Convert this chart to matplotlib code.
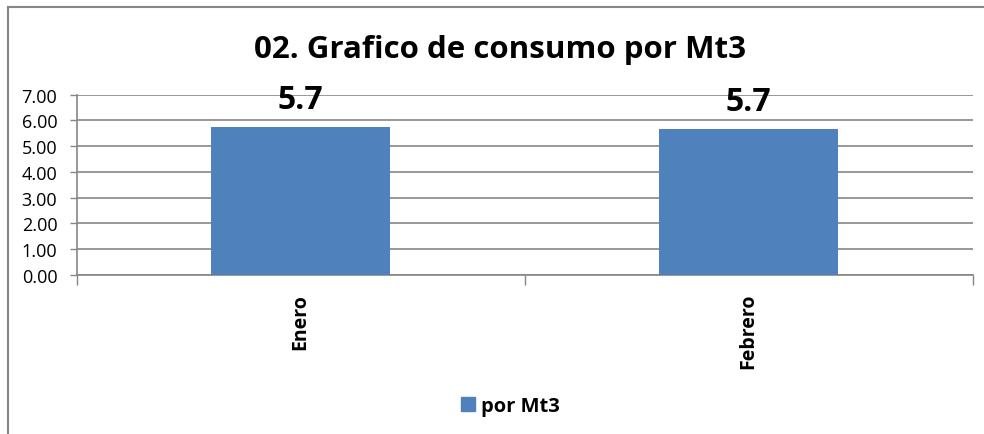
import matplotlib
matplotlib.use("Agg")
import matplotlib.pyplot as plt
from matplotlib.patches import Rectangle
from matplotlib.lines import Line2D
import numpy as np

categories = ["Enero", "Febrero"]
values = [5.73, 5.67]
labels = ["5.7", "5.7"]
series_name = "por Mt3"
title = "02. Grafico de consumo por Mt3"
yticks = [0, 1, 2, 3, 4, 5, 6, 7]

plt.rcParams['font.family'] = ['Open Sans', 'DejaVu Sans']

W, H = 984, 435
fig = plt.figure(figsize=(W / 100, H / 100), dpi=100)
fig.patch.set_facecolor('white')

grey = '#868686'
bar_color = '#4F81BD'

# chart border (left and top visible)
fig.add_artist(Line2D([7.5 / W, 7.5 / W], [0, 1 - 8 / H], transform=fig.transFigure,
                      color=grey, linewidth=1.5))
fig.add_artist(Line2D([7.5 / W, 1], [1 - 8 / H, 1 - 8 / H], transform=fig.transFigure,
                      color=grey, linewidth=1.5))

ax = fig.add_axes([76.7 / W, (H - 275.7) / H, 896 / W, 180 / H])
x = np.arange(len(categories))
ax.bar(x, values, width=0.4, color=bar_color, zorder=3)
ax.set_xlim(-0.5, len(categories) - 0.5)
ax.set_ylim(0, 7)
ax.set_yticks(yticks)
ax.set_yticklabels([f"{v:.2f}" for v in yticks], fontsize=13)
ax.yaxis.grid(True, color=grey, linewidth=1.2, zorder=0)
ax.tick_params(axis='y', length=5, width=1, color=grey, pad=9)

ax.set_xticks(x)
ax.set_xticklabels(categories, rotation=90, fontsize=14, fontweight='bold', va='top')
ax.tick_params(axis='x', which='major', length=0, pad=13)
ax.set_xticks(np.arange(-0.5, len(categories), 1.0), minor=True)
ax.tick_params(axis='x', which='minor', length=7, width=1, color=grey)

for s in ['top', 'right']:
    ax.spines[s].set_visible(False)
for s in ['left', 'bottom']:
    ax.spines[s].set_color(grey)
    ax.spines[s].set_linewidth(1.2)

for xi, v, lab in zip(x, values, labels):
    ax.annotate(lab, (xi, v), xytext=(0, 13.7), textcoords='offset points',
                ha='center', va='baseline', fontsize=23, fontweight='bold', zorder=5)

fig.text(500 / W, 1 - 58 / H, title, ha='center', va='baseline', fontsize=22.5, fontweight='bold')

leg = fig.legend([Rectangle((0, 0), 1, 1, color=bar_color)], [series_name],
                 loc='center', bbox_to_anchor=(510 / W, 1 - 407 / H), frameon=False,
                 prop={'size': 14.5, 'weight': 'bold'}, handlelength=0.7, handleheight=0.7,
                 handletextpad=0.3)

fig.savefig('out.png', dpi=100, facecolor='white')
